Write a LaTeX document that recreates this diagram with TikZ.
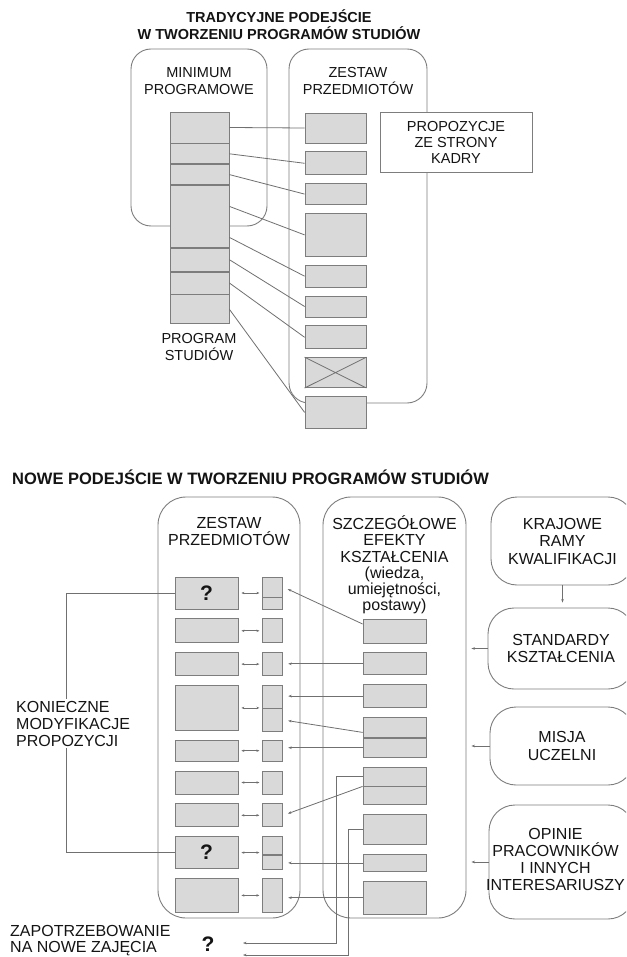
\documentclass[tikz,border=0pt]{standalone}
\usepackage{fontspec}
\setmainfont{Liberation Sans}
\usetikzlibrary{
  arrows.meta,
  positioning,
}
\definecolor{boxfill}{RGB}{217,217,217}
\definecolor{boxedge}{RGB}{125,125,125}
\definecolor{linecol}{RGB}{112,112,112}
\definecolor{inkcol}{RGB}{20,20,20}
\tikzset{
  groupframe/.style={
    rectangle, draw=boxedge, line width=0.9pt, rounded corners=20pt,
    inner sep=0pt
  },
  bigframe/.style={groupframe, rounded corners=28pt},
  srcframe/.style={
    groupframe, rounded corners=26pt, fill=white, text=inkcol,
    font=\fontsize{16}{17.5}\selectfont, align=center
  },
  propbox/.style={
    rectangle, draw=boxedge, fill=white, line width=0.8pt, text=inkcol,
    font=\fontsize{14.5}{16}\selectfont, align=center,
    minimum width=152pt, minimum height=60pt
  },
  greycell/.style={
    rectangle, draw=boxedge, fill=boxfill, line width=0.8pt, inner sep=0pt
  },
  progcell/.style={greycell, minimum width=59pt},
  subjcell/.style={greycell, minimum width=61pt},
  bigcell/.style={greycell, minimum width=63pt, text=inkcol,
    font=\bfseries\fontsize{21}{21}\selectfont},
  smallcell/.style={greycell, minimum width=20pt},
  effcell/.style={greycell, minimum width=63pt},
  toplabel/.style={font=\fontsize{14.5}{17}\selectfont, text=inkcol,
    align=center, inner sep=0pt},
  botlabel/.style={font=\fontsize{16}{17}\selectfont, text=inkcol,
    align=center, inner sep=0pt},
  conn/.style={draw=linecol, line width=0.8pt},
  arrowto/.style={conn, -{Stealth[length=3.5pt, width=2.6pt]}, shorten >=5pt},
  arrowboth/.style={conn, {Stealth[length=3pt, width=2.4pt]}-{Stealth[length=3pt, width=2.4pt]},
    shorten >=3pt, shorten <=3pt},
}

\begin{document}
\begin{tikzpicture}[x=1pt, y=-1pt, node distance=8pt]

  \useasboundingbox (0,0) rectangle (626,957);
  \clip (0,0) rectangle (626,957);
  \fill[white] (0,0) rectangle (626,957);

  % ── Traditional approach ──
  \node[toplabel, font=\bfseries\fontsize{14.5}{17}\selectfont] (ttitle) at (279,24.5)
    {TRADYCYJNE PODEJŚCIE\\W TWORZENIU PROGRAMÓW STUDIÓW};

  \node[groupframe, minimum width=136pt, minimum height=177pt] (minbox) at (199,137.5) {};
  \node[groupframe, minimum width=138pt, minimum height=354pt] (setbox) at (358,226) {};
  \node[toplabel] (minlbl) at (199,81.5) {MINIMUM\\PROGRAMOWE};
  \node[toplabel] (setlbl) at (358,81.5) {ZESTAW\\PRZEDMIOTÓW};

  % program column
  \node[progcell, minimum height=31pt] (c1) at (199.5,127.5) {};
  \node[progcell, minimum height=20pt, below=0pt of c1] (c2) {};
  \node[progcell, minimum height=20pt, below=0pt of c2] (c3) {};
  \node[progcell, minimum height=62pt, below=0pt of c3] (c4) {};
  \node[progcell, minimum height=23pt, below=0pt of c4] (c5) {};
  \node[progcell, minimum height=22pt, below=0pt of c5] (c6) {};
  \node[progcell, minimum height=29pt, below=0pt of c6] (c7) {};
  \node[toplabel] (proglbl) at (199,347) {PROGRAM\\STUDIÓW};

  % subjects
  \node[subjcell, minimum height=30pt] (z1) at (335.5,128) {};
  \node[subjcell, minimum height=23pt, below=of z1] (z2) {};
  \node[subjcell, minimum height=21pt, below=of z2] (z3) {};
  \node[subjcell, minimum height=43pt, below=of z3] (z4) {};
  \node[subjcell, minimum height=22pt, below=of z4] (z5) {};
  \node[subjcell, minimum height=21pt, below=of z5] (z6) {};
  \node[subjcell, minimum height=23pt, below=of z6] (z7) {};
  \node[subjcell, minimum height=30pt, below=of z7] (zx) {};
  \node[subjcell, minimum height=32pt, below=of zx] (z8) {};
  \draw[conn] (zx.north west) -- (zx.south east)
              (zx.north east) -- (zx.south west);

  \node[propbox] (prop) at (456,142) {PROPOZYCJE\\ZE STRONY\\KADRY};

  \draw[conn] (c1.east) -- (z1.west);
  \draw[conn] (c2.east) -- (z2.west);
  \draw[conn] (c3.east) -- (z3.west);
  \draw[conn] ([yshift=10pt]c4.east) -- (z4.west);
  \draw[conn] ([yshift=-21pt]c4.east) -- (z5.west);
  \draw[conn] (c5.east) -- (z6.west);
  \draw[conn] (c6.east) -- (z7.west);
  \draw[conn] (c7.east) -- (z8.west);

  % ── New approach ──
  \node[anchor=west, inner sep=0pt, text=inkcol, font=\bfseries\fontsize{16.5}{18}\selectfont]
    (ntitle) at (12,477) {NOWE PODEJŚCIE W TWORZENIU PROGRAMÓW STUDIÓW};

  \node[bigframe, minimum width=142pt, minimum height=421pt] (nset) at (229,707.5) {};
  \node[bigframe, minimum width=143pt, minimum height=421pt] (neff) at (394.5,707.5) {};
  \node[botlabel] (nsetlbl) at (229,531.5) {ZESTAW\\PRZEDMIOTÓW};
  \node[botlabel, font=\fontsize{16}{16.2}\selectfont] (nefflbl) at (394.5,565)
    {SZCZEGÓŁOWE\\EFEKTY\\KSZTAŁCENIA\\(wiedza,\\umiejętności,\\postawy)};

  \node[srcframe, minimum width=143pt, minimum height=88pt] (kra) at (562.5,541)
    {KRAJOWE\\RAMY\\KWALIFIKACJI};
  \node[srcframe, minimum width=146pt, minimum height=81pt] (std) at (561,648.5)
    {STANDARDY\\KSZTAŁCENIA};
  \node[srcframe, minimum width=144pt, minimum height=78pt] (mis) at (562,746)
    {MISJA\\UCZELNI};
  \node[srcframe, minimum width=145pt, minimum height=114pt] (opi) at (561.5,862) {};
  \node[botlabel] (opilbl) at (555.5,859.5)
    {OPINIE\\PRACOWNIKÓW\\I INNYCH\\INTERESARIUSZY};

  \begin{scope}[node distance=9pt]
    % subject blocks
    \node[bigcell, minimum height=32pt] (b1) at (206.5,593) {?};
    \node[bigcell, minimum height=24pt, below=of b1] (b2) {};
    \node[bigcell, minimum height=23pt, below=of b2] (b3) {};
    \node[bigcell, minimum height=45pt, below=of b3] (b4) {};
    \node[bigcell, minimum height=21pt, below=of b4] (b5) {};
    \node[bigcell, minimum height=23pt, below=of b5] (b6) {};
    \node[bigcell, minimum height=23pt, below=of b6] (b7) {};
    \node[bigcell, minimum height=32pt, below=of b7] (b8) {?};
    \node[bigcell, minimum height=34pt, below=of b8] (b9) {};

    % outcome slots of the subjects
    \node[smallcell, minimum height=20pt, anchor=north west] (s1a) at ([xshift=24pt]b1.north east) {};
    \node[smallcell, minimum height=12pt, below=0pt of s1a] (s1b) {};
    \node[smallcell, minimum height=24pt, right=24pt of b2] (s2) {};
    \node[smallcell, minimum height=23pt, right=24pt of b3] (s3) {};
    \node[smallcell, minimum height=22.5pt, anchor=north west] (s4a) at ([xshift=24pt]b4.north east) {};
    \node[smallcell, minimum height=22.5pt, below=0pt of s4a] (s4b) {};
    \node[smallcell, minimum height=21pt, right=24pt of b5] (s5) {};
    \node[smallcell, minimum height=23pt, right=24pt of b6] (s6) {};
    \node[smallcell, minimum height=23pt, right=24pt of b7] (s7) {};
    \node[smallcell, minimum height=18pt, anchor=north west] (s8a) at ([xshift=24pt]b8.north east) {};
    \node[smallcell, minimum height=14pt, below=0pt of s8a] (s8b) {};
    \node[smallcell, minimum height=34pt, right=24pt of b9] (s9) {};

    % learning outcomes
    \node[effcell, minimum height=24pt] (e1) at (394.5,631) {};
    \node[effcell, minimum height=22pt, below=of e1] (e2) {};
    \node[effcell, minimum height=23pt, below=of e2] (e3) {};
    \node[effcell, minimum height=20pt, below=of e3] (e4a) {};
    \node[effcell, minimum height=19pt, below=0pt of e4a] (e4b) {};
    \node[effcell, minimum height=19pt, below=of e4b] (e5a) {};
    \node[effcell, minimum height=18pt, below=0pt of e5a] (e5b) {};
    \node[effcell, minimum height=30pt, below=of e5b] (e6) {};
    \node[effcell, minimum height=17pt, below=of e6] (e7) {};
    \node[effcell, minimum height=33pt, below=of e7] (e8) {};
  \end{scope}

  % ── subject <-> slot ──
  \draw[arrowboth] (b1.east) -- (b1.east -| s1a.west);
  \draw[arrowboth] (b2.east) -- (s2.west);
  \draw[arrowboth] (b3.east) -- (s3.west);
  \draw[arrowboth] (b4.east) -- (b4.east -| s4a.west);
  \draw[arrowboth] (b5.east) -- (s5.west);
  \draw[arrowboth] (b6.east) -- (s6.west);
  \draw[arrowboth] (b7.east) -- (s7.west);
  \draw[arrowboth] (b8.east) -- (b8.east -| s8a.west);
  \draw[arrowboth] (b9.east) -- (s9.west);

  % ── outcomes -> slots ──
  \draw[arrowto] ([yshift=7pt]e1.west) -- (s1a.east);
  \draw[arrowto] (e2.west) -- (e2.west -| s3.east);
  \draw[arrowto] (e3.west) -- (e3.west -| s4a.east);
  \draw[arrowto] ([yshift=-5pt]e4a.west) -- (s4b.east);
  \draw[arrowto] (e4b.west) -- (e4b.west -| s5.east);
  \draw[arrowto] (e5b.north west) -- (s7.east);
  \draw[arrowto] (e7.west) -- (e7.west -| s8b.east);
  \draw[arrowto] (e8.west) -- (e8.west -| s9.east);

  % ── new classes ──
  \coordinate (need1) at (243,943);
  \coordinate (need2) at (243,955);
  \draw[arrowto, shorten >=0pt] (e5a.west) -- ++(-26,0) |- (need1);
  \draw[arrowto, shorten >=0pt] (e6.west) -- ++(-14,0) |- (need2);
  \node[botlabel, align=left, anchor=west, font=\fontsize{16}{16}\selectfont] (needlbl) at (10,941)
    {ZAPOTRZEBOWANIE\\NA NOWE ZAJĘCIA};
  \node[inner sep=0pt, text=inkcol, font=\bfseries\fontsize{21}{21}\selectfont] (needq) at (208,944.5) {?};

  % ── sources -> outcomes ──
  \draw[arrowto] (kra.south) -- (kra.south |- std.north);
  \draw[arrowto] (std.west) -- (std.west -| neff.east);
  \draw[arrowto] (mis.west) -- (mis.west -| neff.east);
  \draw[arrowto] (opi.west) -- (opi.west -| neff.east);

  % ── modification bracket ──
  \coordinate (kbar) at (66,593);
  \draw[conn] (b1.west) -- (kbar) |- (b8.west);
  \node[botlabel, align=left, anchor=west, fill=white, inner sep=2pt] (modlbl) at (14,723.5)
    {KONIECZNE\\MODYFIKACJE\\PROPOZYCJI};

\end{tikzpicture}
\end{document}
